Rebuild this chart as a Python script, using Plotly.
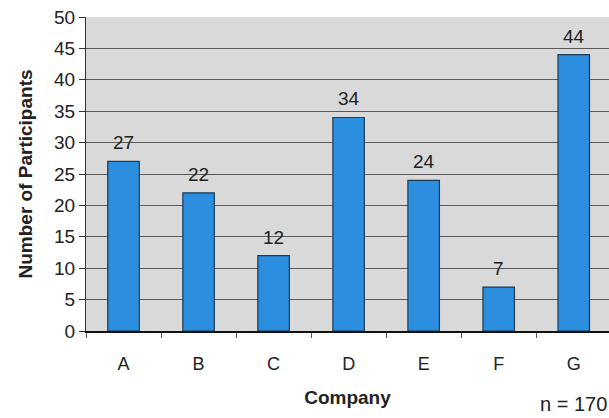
import plotly.graph_objects as go

companies = ["A", "B", "C", "D", "E", "F", "G"]
participants = [27, 22, 12, 34, 24, 7, 44]
y_ticks = [0, 5, 10, 15, 20, 25, 30, 35, 40, 45, 50]
sample_note = "n = 170"

FONT = "Liberation Sans, Arial"

fig = go.Figure()
fig.add_trace(go.Bar(
    x=companies,
    y=participants,
    width=0.42,
    marker=dict(color="#2b8ede", line=dict(color="#1d3b55", width=1.2)),
    hoverinfo="skip",
))

for c, v in zip(companies, participants):
    fig.add_annotation(
        x=c, y=v, text=str(v), showarrow=False,
        yanchor="bottom", yshift=6,
        font=dict(family=FONT, size=19, color="#222222"),
    )

fig.add_annotation(
    xref="paper", yref="paper", x=1.0, y=-0.232, xanchor="right", yanchor="middle",
    text=sample_note, showarrow=False,
    font=dict(family=FONT, size=20, color="#222222"),
)

fig.update_layout(
    width=609, height=418,
    margin=dict(l=86, r=0, t=17, b=87),
    paper_bgcolor="white",
    plot_bgcolor="#d9d9d9",
    showlegend=False,
    font=dict(family=FONT, color="#222222"),
    xaxis=dict(
        range=[-0.5, 6.47],
        showline=True, linecolor="#111111", linewidth=1.5,
        ticks="outside", ticklen=5, tickcolor="#555555",
        tickson="boundaries",
        tickfont=dict(size=18),
        ticklabelstandoff=16,
        title=dict(text="<b>Company</b>", font=dict(size=19), standoff=17),
        showgrid=False,
    ),
    yaxis=dict(
        range=[0, 50],
        tickvals=y_ticks,
        showline=True, linecolor="#333333", linewidth=1.2,
        ticks="outside", ticklen=6, tickcolor="#333333",
        tickfont=dict(size=19),
        showgrid=True, gridcolor="#5a5a5a", gridwidth=1,
        zeroline=False,
        title=dict(text="<b>Number of Participants</b>", font=dict(size=19), standoff=16),
    ),
)

fig.write_html("out.html")
